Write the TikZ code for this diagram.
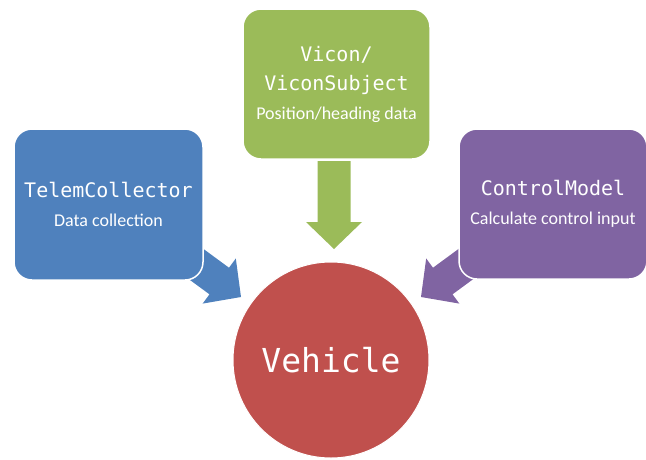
\documentclass[tikz,border=0pt]{standalone}
\usepackage{fontspec}
\setmainfont{Carlito}
\newfontfamily\monofnt{DejaVu Sans Mono}
\usetikzlibrary{backgrounds}
\definecolor{boxblue}{HTML}{4F81BD}
\definecolor{boxgreen}{HTML}{9BBB59}
\definecolor{boxpurple}{HTML}{8064A2}
\definecolor{boxred}{HTML}{C0504D}
\begin{document}
\begin{tikzpicture}[x=1pt,y=1pt,
  card/.style={rounded corners=18pt, draw=white, line width=1.5pt,
    minimum width=189pt, minimum height=151pt, align=center, text=white,
    font=\fontsize{18}{29}\selectfont, inner sep=0pt},
  ttl/.style={},
  blockarr/.pic={\fill[pic actions] (0,0) -- (-27,28) -- (-27,16.5) -- (-88,16.5)
     -- (-88,-16.5) -- (-27,-16.5) -- (-27,-28) -- cycle;}
]
\useasboundingbox (0,0) rectangle (646,-459);
\newcommand{\boxtitle}[1]{{\monofnt\fontsize{20}{29}\selectfont #1}}

\node[card, fill=boxblue] (telem) at (108.5,-204.5)
  {\boxtitle{TelemCollector}\\Data collection};
\node[card, fill=boxgreen, minimum width=187pt, minimum height=150pt] (vicon) at (336.5,-84)
  {\boxtitle{Vicon/}\\\boxtitle{ViconSubject}\\Position/heading data};
\node[card, fill=boxpurple, minimum width=188pt, minimum height=150pt] (ctrl) at (553,-204)
  {\boxtitle{ControlModel}\\Calculate control input};
\node[circle, fill=boxred, draw=white, line width=1pt, minimum size=196pt, inner sep=0pt,
  text=white, font=\monofnt\fontsize{33}{40}\selectfont] (veh) at (331,-360) {Vehicle};

\coordinate (tipB) at (241,-297);
\coordinate (tipG) at (334,-249);
\coordinate (tipP) at (421,-297);

\begin{pgfonlayer}{background}
  \pic[fill=boxblue, rotate=-36.3] at (tipB) {blockarr};
  \pic[fill=boxgreen, rotate=-90] at (tipG) {blockarr};
  \pic[fill=boxpurple, rotate=216.3] at (tipP) {blockarr};
\end{pgfonlayer}
\end{tikzpicture}
\end{document}
